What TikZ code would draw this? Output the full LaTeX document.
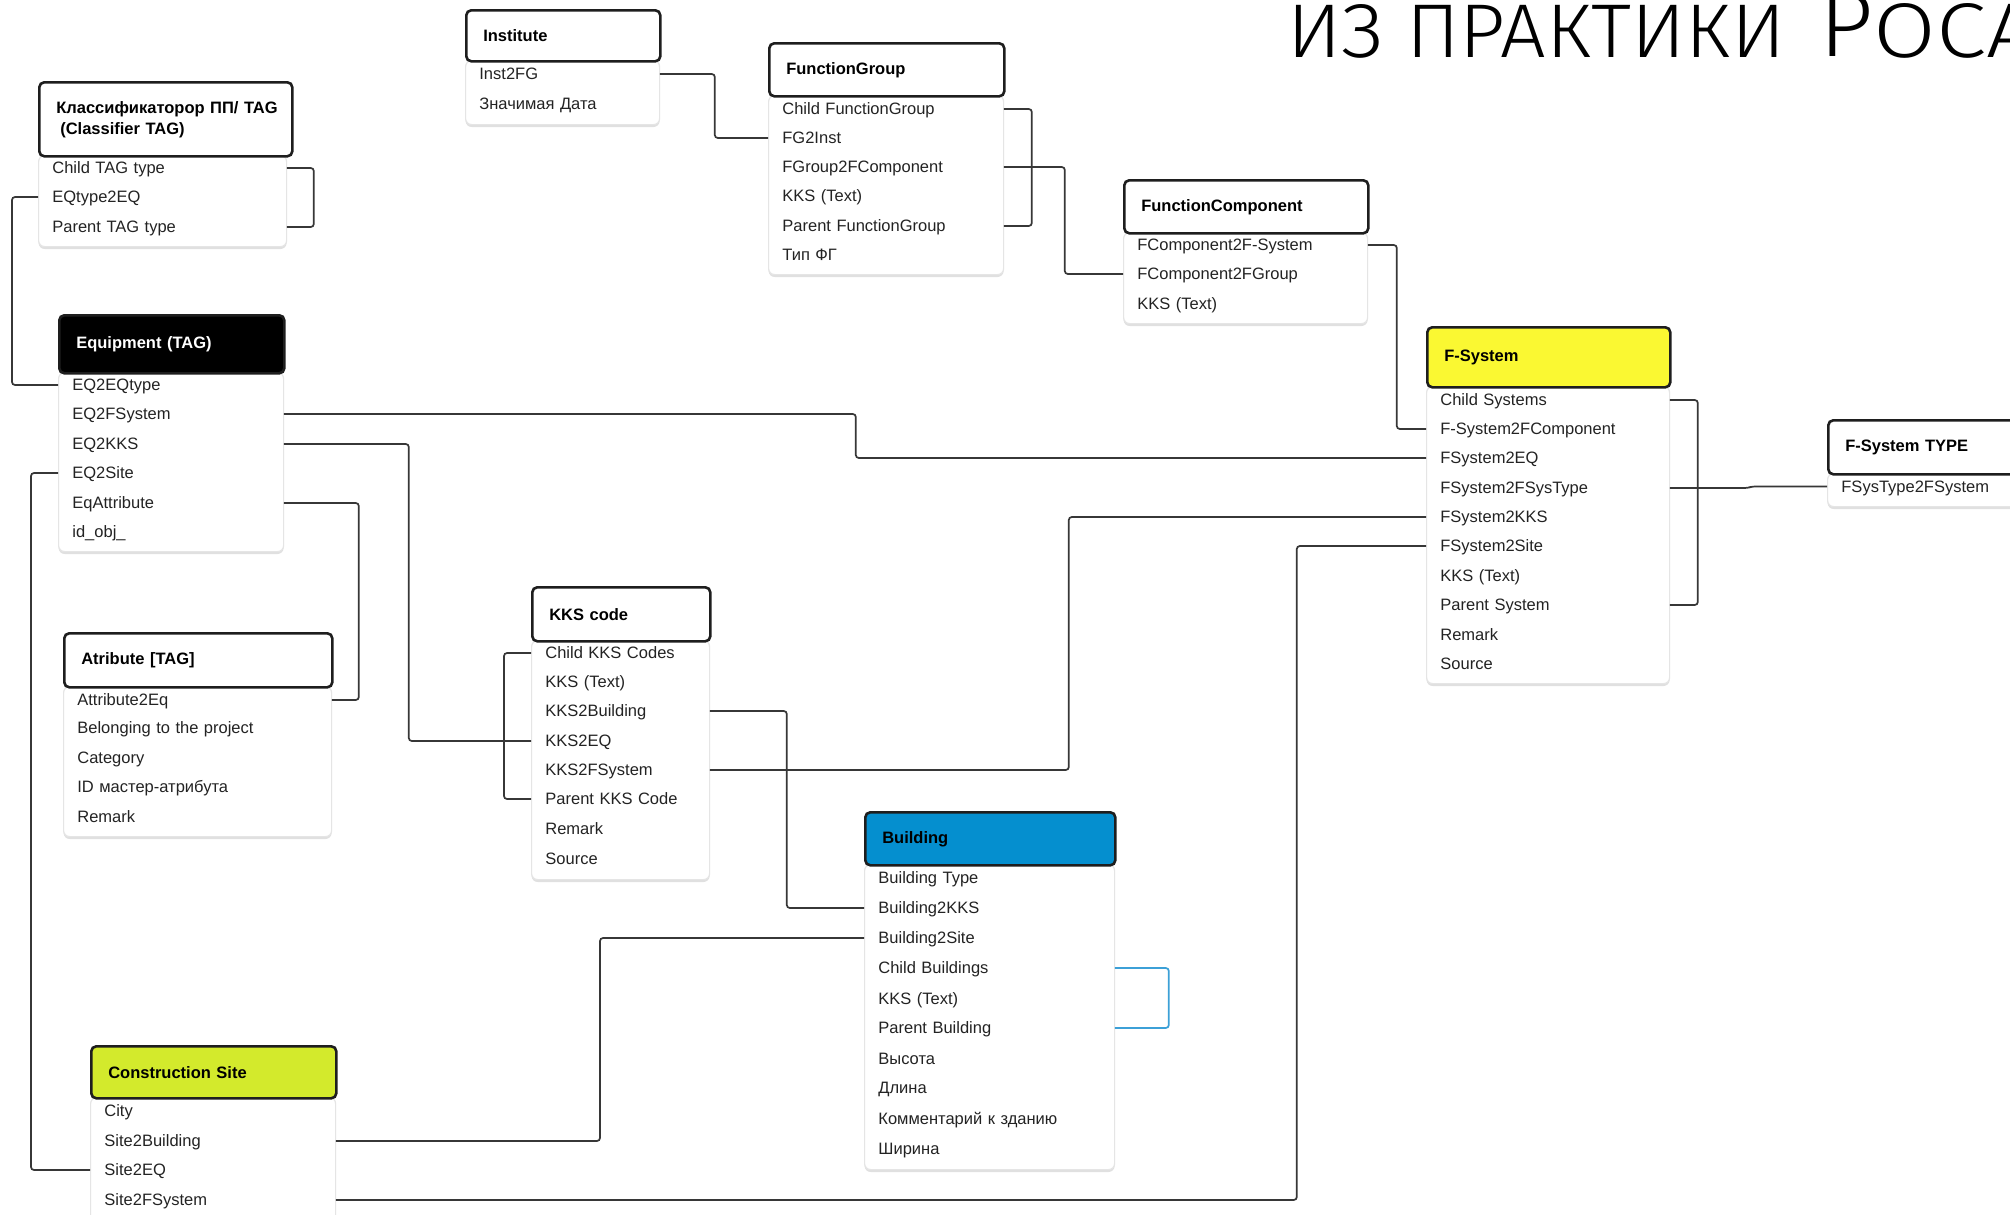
\documentclass[tikz,border=0pt]{standalone}
\usepackage{fontspec}
\usepackage{graphicx}
\setmainfont{Liberation Sans}
\IfFontExistsTF{Fira Sans Light}{\newfontfamily\ttlfont{Fira Sans Light}}{%
 \IfFontExistsTF{DejaVu Sans ExtraLight}{\newfontfamily\ttlfont{DejaVu Sans ExtraLight}}{%
  \newfontfamily\ttlfont{Liberation Sans}}}
\usetikzlibrary{shadows}
\definecolor{lnc}{RGB}{55,55,55}
\definecolor{rowc}{RGB}{35,35,35}
\definecolor{hdrline}{RGB}{30,30,30}
\definecolor{fsyellow}{RGB}{250,248,50}
\definecolor{bldblue}{RGB}{5,143,207}
\definecolor{cslime}{RGB}{211,234,44}
\definecolor{loopblue}{RGB}{60,160,215}
\newcommand\rowfont{\fontsize{8.25}{10}\selectfont}
\newcommand\hdrfont{\fontsize{8.25}{10.5}\selectfont\bfseries}
\newcommand{\ertHdr}[7]{%
 \pgfmathsetmacro\ertW{(#3-#2)*0.5}%
 \pgfmathsetmacro\ertH{(#5-#4)*0.5}%
 \pgfmathsetmacro\ertT{(#3-#2-34)*0.5}%
 \node[hdrbox,#6,anchor=north west,minimum width=\ertW pt,minimum height=\ertH pt,text width=\ertT pt] (#1) at (#2,#4) {#7};}
\newcommand{\ertBody}[5]{%
 \pgfmathsetmacro\ertW{(#3-#2)*0.5}%
 \pgfmathsetmacro\ertH{(#5-#4)*0.5}%
 \node[bodybox,anchor=north west,minimum width=\ertW pt,minimum height=\ertH pt,inner sep=0pt] (#1) at (#2,#4) {};}
\newcommand{\ertRow}[5]{%
 \pgfmathsetmacro\ertT{(#3-#2-28)*0.5}%
 \node[rowtxt,anchor=west,text width=\ertT pt] (#1) at (#2,#4) {#5};}
\tikzset{
 hdrbox/.style={draw=hdrline, fill=white, line width=1.3pt, rounded corners=2.5pt, inner xsep=8.5pt, inner ysep=0pt, align=left, font=\hdrfont},
 bodybox/.style={draw=black!10, fill=white, line width=0.6pt, rounded corners=3pt, drop shadow={shadow xshift=0pt, shadow yshift=-1.2pt, opacity=0.12, fill=black}},
 rowtxt/.style={inner xsep=7pt, inner ysep=0pt, text height=6pt, text depth=0.5pt, align=left, font=\rowfont, text=rowc},
 conn/.style={draw=lnc, line width=0.85pt, rounded corners=1.5pt},
 loopb/.style={draw=loopblue, line width=0.85pt, rounded corners=1.5pt},
}
\begin{document}
\begin{tikzpicture}[x=0.5pt,y=-0.5pt]
\useasboundingbox (0,0) rectangle (2010,1215);
\fill[white] (0,0) rectangle (2010,1215);
\clip (0,0) rectangle (2010,1215);

% title
\node[anchor=base west, inner sep=0pt] (ttl1) at (1287,57) {\resizebox{249pt}{26.5pt}{\ttlfont ИЗ ПРАКТИКИ}};
\node[anchor=base west, inner sep=0pt] (ttl2) at (1819,57) {\resizebox{27pt}{32pt}{\ttlfont Р}};
\node[anchor=base west, inner sep=0pt] (ttl3) at (1873,57) {\resizebox{82pt}{27pt}{\ttlfont ОСА}};

% Classifier
\ertBody{clsb}{38}{286}{155}{246}
\ertHdr{cls}{38}{291}{81}{155}{}{\mbox{Классификаторор ПП/ TAG}\\\mbox{\hspace{2pt}(Classifier TAG)}}
\ertRow{cls-1}{38}{286}{168}{Child TAG type}
\ertRow{cls-2}{38}{286}{197}{EQtype2EQ}
\ertRow{cls-3}{38}{286}{227}{Parent TAG type}

% Institute
\ertBody{instb}{465}{659}{60}{124}
\ertHdr{inst}{465}{659}{9}{60}{}{Institute}
\ertRow{inst-1}{465}{659}{74}{Inst2FG}
\ertRow{inst-2}{465}{659}{104}{Значимая Дата}

% FunctionGroup
\ertBody{fgb}{768}{1003}{95}{274}
\ertHdr{fg}{768}{1003}{42}{95}{}{FunctionGroup}
\ertRow{fg-1}{768}{1003}{109}{Child FunctionGroup}
\ertRow{fg-2}{768}{1003}{138}{FG2Inst}
\ertRow{fg-3}{768}{1003}{167}{FGroup2FComponent}
\ertRow{fg-4}{768}{1003}{196}{KKS (Text)}
\ertRow{fg-5}{768}{1003}{226}{Parent FunctionGroup}
\ertRow{fg-6}{768}{1003}{255}{Тип ФГ}

% FunctionComponent
\ertBody{fcb}{1123}{1367}{232}{323}
\ertHdr{fc}{1123}{1367}{179}{232}{}{FunctionComponent}
\ertRow{fc-1}{1123}{1367}{245}{FComponent2F-System}
\ertRow{fc-2}{1123}{1367}{274}{FComponent2FGroup}
\ertRow{fc-3}{1123}{1367}{304}{KKS (Text)}

% F-System
\ertBody{fsb}{1426}{1669}{386}{683}
\ertHdr{fs}{1426}{1669}{326}{386}{fill=fsyellow}{F-System}
\ertRow{fs-1}{1426}{1669}{400}{Child Systems}
\ertRow{fs-2}{1426}{1669}{429}{F-System2FComponent}
\ertRow{fs-3}{1426}{1669}{458}{FSystem2EQ}
\ertRow{fs-4}{1426}{1669}{488}{FSystem2FSysType}
\ertRow{fs-5}{1426}{1669}{517}{FSystem2KKS}
\ertRow{fs-6}{1426}{1669}{546}{FSystem2Site}
\ertRow{fs-7}{1426}{1669}{576}{KKS (Text)}
\ertRow{fs-8}{1426}{1669}{605}{Parent System}
\ertRow{fs-9}{1426}{1669}{635}{Remark}
\ertRow{fs-10}{1426}{1669}{664}{Source}

% F-System TYPE
\ertBody{fstb}{1827}{2070}{473}{506}
\ertHdr{fst}{1827}{2070}{419}{473}{}{F-System TYPE}
\ertRow{fst-1}{1827}{2070}{486.5}{FSysType2FSystem}

% Equipment
\ertBody{eqb}{58}{283}{372}{551}
\ertHdr{eq}{58}{283}{314}{372}{fill=black,text=white}{Equipment (TAG)}
\ertRow{eq-1}{58}{283}{385}{EQ2EQtype}
\ertRow{eq-2}{58}{283}{414}{EQ2FSystem}
\ertRow{eq-3}{58}{283}{444}{EQ2KKS}
\ertRow{eq-4}{58}{283}{473}{EQ2Site}
\ertRow{eq-5}{58}{283}{503}{EqAttribute}
\ertRow{eq-6}{58}{283}{532}{id\_obj\_}

% Atribute
\ertBody{atb}{63}{331}{686}{836}
\ertHdr{at}{63}{331}{632}{686}{}{Atribute [TAG]}
\ertRow{at-1}{63}{331}{700}{Attribute2Eq}
\ertRow{at-2}{63}{331}{728}{Belonging to the project}
\ertRow{at-3}{63}{331}{758}{Category}
\ertRow{at-4}{63}{331}{787}{ID мастер-атрибута}
\ertRow{at-5}{63}{331}{817}{Remark}

% KKS code
\ertBody{kksb}{531}{709}{640}{879}
\ertHdr{kks}{531}{709}{586}{640}{}{KKS code}
\ertRow{kks-1}{531}{709}{653}{Child KKS Codes}
\ertRow{kks-2}{531}{709}{682}{KKS (Text)}
\ertRow{kks-3}{531}{709}{711}{KKS2Building}
\ertRow{kks-4}{531}{709}{741}{KKS2EQ}
\ertRow{kks-5}{531}{709}{770}{KKS2FSystem}
\ertRow{kks-6}{531}{709}{799}{Parent KKS Code}
\ertRow{kks-7}{531}{709}{829}{Remark}
\ertRow{kks-8}{531}{709}{859}{Source}

% Building
\ertBody{bldb}{864}{1114}{864}{1169}
\ertHdr{bld}{864}{1114}{811}{864}{fill=bldblue}{Building}
\ertRow{bld-1}{864}{1114}{878}{Building Type}
\ertRow{bld-2}{864}{1114}{908}{Building2KKS}
\ertRow{bld-3}{864}{1114}{938}{Building2Site}
\ertRow{bld-4}{864}{1114}{968}{Child Buildings}
\ertRow{bld-5}{864}{1114}{999}{KKS (Text)}
\ertRow{bld-6}{864}{1114}{1028}{Parent Building}
\ertRow{bld-7}{864}{1114}{1059}{Высота}
\ertRow{bld-8}{864}{1114}{1088}{Длина}
\ertRow{bld-9}{864}{1114}{1119}{Комментарий к зданию}
\ertRow{bld-10}{864}{1114}{1149}{Ширина}

% Construction Site
\ertBody{csb}{90}{335}{1097}{1240}
\ertHdr{cs}{90}{335}{1045}{1097}{fill=cslime}{Construction Site}
\ertRow{cs-1}{90}{335}{1111}{City}
\ertRow{cs-2}{90}{335}{1141}{Site2Building}
\ertRow{cs-3}{90}{335}{1170}{Site2EQ}
\ertRow{cs-4}{90}{335}{1200}{Site2FSystem}

% self loops
\draw[conn] (cls-1.east) -- ++(27,0) |- (cls-3.east);
\draw[conn] (fg-1.east) -- ++(28,0) |- (fg-5.east);
\draw[conn] (fs-1.east) -- ++(28,0) |- (fs-8.east);
\draw[conn] (kks-1.west) -- ++(-27,0) |- (kks-6.west);
\draw[loopb] (bld-4.east) -- ++(54,0) |- (bld-6.east);

% connectors
\draw[conn] (cls-2.west) -- ++(-26,0) |- (eq-1.west);
\draw[conn] (inst-1.east) -- ++(55,0) |- (fg-2.west);
\draw[conn] (fg-3.east) -- ++(61,0) |- (fc-2.west);
\draw[conn] (fc-1.east) -- ++(29,0) |- (fs-2.west);
\draw[conn] (fs-4.east) -- ++(78,0) -- ++(4,-1.5) -- (fst-1.west);
\draw[conn] (eq-2.east) -- ++(572,0) |- (fs-3.west);
\draw[conn] (eq-3.east) -- ++(125,0) |- (kks-4.west);
\draw[conn] (eq-4.west) -- ++(-27,0) |- (cs-3.west);
\draw[conn] (eq-5.east) -- ++(75,0) |- (at-1.east);
\draw[conn] (kks-3.east) -- ++(77,0) |- (bld-2.west);
\draw[conn] (kks-5.east) -- ++(359,0) |- (fs-5.west);
\draw[conn] (bld-3.west) -- ++(-264,0) |- (cs-2.east);
\draw[conn] (cs-4.east) -- ++(961,0) |- (fs-6.west);
\end{tikzpicture}
\end{document}
